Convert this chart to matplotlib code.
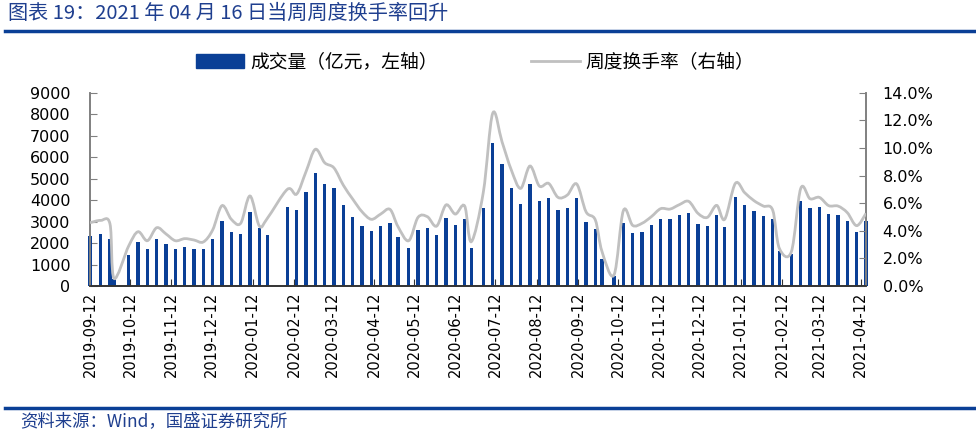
import matplotlib
matplotlib.use('Agg')
import matplotlib.pyplot as plt
import matplotlib.dates as mdates
from matplotlib.path import Path
from matplotlib.patches import PathPatch, Patch
from matplotlib.lines import Line2D
import numpy as np
import pandas as pd

plt.rcParams['font.family'] = ['Noto Sans CJK SC', 'DejaVu Sans']

# weekly data (week end dates)
dates = ['2019-09-12', '2019-09-20', '2019-09-27', '2019-09-30', '2019-10-11', '2019-10-18',
         '2019-10-25', '2019-11-01', '2019-11-08', '2019-11-15', '2019-11-22', '2019-11-29',
         '2019-12-06', '2019-12-13', '2019-12-20', '2019-12-27', '2020-01-03', '2020-01-10',
         '2020-01-17', '2020-01-23', '2020-02-07', '2020-02-14', '2020-02-21', '2020-02-28',
         '2020-03-06', '2020-03-13', '2020-03-20', '2020-03-27', '2020-04-03', '2020-04-10',
         '2020-04-17', '2020-04-24', '2020-04-30', '2020-05-08', '2020-05-15', '2020-05-22',
         '2020-05-29', '2020-06-05', '2020-06-12', '2020-06-19', '2020-06-24', '2020-07-03',
         '2020-07-10', '2020-07-17', '2020-07-24', '2020-07-31', '2020-08-07', '2020-08-14',
         '2020-08-21', '2020-08-28', '2020-09-04', '2020-09-11', '2020-09-18', '2020-09-25',
         '2020-09-30', '2020-10-09', '2020-10-16', '2020-10-23', '2020-10-30', '2020-11-06',
         '2020-11-13', '2020-11-20', '2020-11-27', '2020-12-04', '2020-12-11', '2020-12-18',
         '2020-12-25', '2020-12-31', '2021-01-08', '2021-01-15', '2021-01-22', '2021-01-29',
         '2021-02-05', '2021-02-10', '2021-02-19', '2021-02-26', '2021-03-05', '2021-03-12',
         '2021-03-19', '2021-03-26', '2021-04-02', '2021-04-09', '2021-04-16']

# 成交量 (亿元)
volume = [2340, 2440, 2200, 310, 1430, 2050, 1740, 2190, 1970, 1740, 1800, 1740,
          1710, 2200, 3030, 2510, 2420, 3430, 2720, 2360, 3660, 3540, 4360, 5240,
          4730, 4550, 3760, 3200, 2780, 2580, 2810, 2950, 2270, 1770, 2610, 2720,
          2360, 3170, 2840, 3100, 1770, 3620, 6670, 5660, 4580, 3800, 4770, 3970,
          4080, 3540, 3620, 4080, 2990, 2640, 1240, 480, 2950, 2480, 2510, 2840,
          3100, 3100, 3310, 3410, 2890, 2790, 3310, 2750, 4160, 3790, 3480, 3260,
          3140, 1630, 1490, 3960, 3620, 3660, 3340, 3290, 3030, 2530, 3030]

# 周度换手率 (%)
turnover = [4.58, 4.75, 4.49, 0.55, 2.9, 3.93, 3.28, 4.22, 3.77, 3.28, 3.43, 3.33,
            3.19, 4.06, 5.82, 4.83, 4.54, 6.52, 4.35, 4.9, 7.0, 6.66, 8.28, 9.9,
            8.93, 8.55, 7.3, 6.3, 5.38, 4.83, 5.21, 5.55, 4.3, 3.28, 4.97, 5.02,
            4.34, 5.87, 5.21, 5.79, 3.21, 6.8, 12.5, 10.45, 8.4, 7.07, 8.69, 7.24,
            7.43, 6.42, 6.59, 7.39, 5.38, 4.78, 2.5, 0.8, 5.45, 4.39, 4.54, 5.02,
            5.6, 5.57, 5.89, 6.13, 5.26, 4.97, 5.84, 4.83, 7.43, 6.76, 6.18, 5.79,
            5.5, 2.73, 2.48, 7.05, 6.32, 6.42, 5.82, 5.79, 5.31, 4.37, 5.26]

tick_dates = ['2019-09-12', '2019-10-12', '2019-11-12', '2019-12-12', '2020-01-12',
              '2020-02-12', '2020-03-12', '2020-04-12', '2020-05-12', '2020-06-12',
              '2020-07-12', '2020-08-12', '2020-09-12', '2020-10-12', '2020-11-12',
              '2020-12-12', '2021-01-12', '2021-02-12', '2021-03-12', '2021-04-12']

bar_color = '#0a3f96'
line_color = '#c0c0c0'
title_color = '#1f3f8f'

x = mdates.date2num(pd.to_datetime(dates))
xt = mdates.date2num(pd.to_datetime(tick_dates))

fig = plt.figure(figsize=(9.76, 4.41), dpi=100)
W, H = 976, 441
ax = fig.add_axes([90 / W, (H - 286) / H, 776 / W, (286 - 92.7) / H])
ax2 = ax.twinx()

ax.bar(x, volume, width=2.4, color=bar_color, clip_on=False, zorder=2)
ax.set_ylim(0, 9000)
ax.set_yticks(range(0, 9001, 1000))
ax.set_xlim(x[0], x[-1])
ax.set_xticks(xt)
ax.set_xticklabels(tick_dates, rotation=90, fontsize=10.5, family='DejaVu Sans')
for lab in ax.get_yticklabels():
    lab.set_family('DejaVu Sans')
ax.tick_params(axis='y', labelsize=11.5, direction='in', length=5, color='#808080', pad=14)
ax.tick_params(axis='x', direction='in', length=5, color='#333333', pad=4)

# smoothed line, like excel's smooth line option
pts = np.column_stack([x, turnover])
ext = np.vstack([pts[0], pts, pts[-1]])
verts = [pts[0]]
codes = [Path.MOVETO]
for i in range(len(pts) - 1):
    p0, p1, p2, p3 = ext[i], ext[i + 1], ext[i + 2], ext[i + 3]
    verts += [p1 + (p2 - p0) / 6, p2 - (p3 - p1) / 6, p2]
    codes += [Path.CURVE4] * 3
ax2.add_patch(PathPatch(Path(verts, codes), facecolor='none', edgecolor=line_color,
                        lw=2.0, zorder=3))
ax2.set_ylim(0, 14)
ax2.set_yticks(range(0, 15, 2))
ax2.set_yticklabels(['%.1f%%' % v for v in range(0, 15, 2)], family='DejaVu Sans')
ax2.tick_params(axis='y', labelsize=11.5, direction='in', length=5, color='#808080', pad=12)
ax2.set_xlim(x[0], x[-1])

for a in (ax, ax2):
    a.spines['top'].set_visible(False)
    a.spines['left'].set_color('#808080')
    a.spines['right'].set_color('#808080')
    a.spines['bottom'].set_color('#333333')
    a.spines['left'].set_linewidth(1.2)
    a.spines['right'].set_linewidth(1.2)
    a.spines['bottom'].set_linewidth(1.2)

handles = [Patch(facecolor=bar_color, edgecolor=bar_color),
           Line2D([], [], color=line_color, lw=2.0)]
fig.legend(handles, ['成交量（亿元，左轴）', '周度换手率（右轴）'], ncol=2, frameon=False,
           loc='center', bbox_to_anchor=(475 / W, 1 - 62 / H), fontsize=13.5,
           handlelength=2.6, handleheight=0.7, handletextpad=0.3, columnspacing=5.0)

fig.text(8 / W, 1 - 13 / H, '图表 19：2021 年 04 月 16 日当周周度换手率回升', fontsize=14.5,
         color=title_color, style='italic', va='center', ha='left')
fig.add_artist(Line2D([5 / W, 975 / W], [1 - 31 / H] * 2, transform=fig.transFigure,
                      color=bar_color, lw=2.5))
fig.add_artist(Line2D([5 / W, 975 / W], [1 - 408 / H] * 2, transform=fig.transFigure,
                      color=bar_color, lw=2.5))
fig.text(20 / W, 1 - 421 / H, '资料来源：Wind，国盛证券研究所', fontsize=12.5,
         color=title_color, style='italic', va='center', ha='left')

fig.savefig('out.png', dpi=100)
